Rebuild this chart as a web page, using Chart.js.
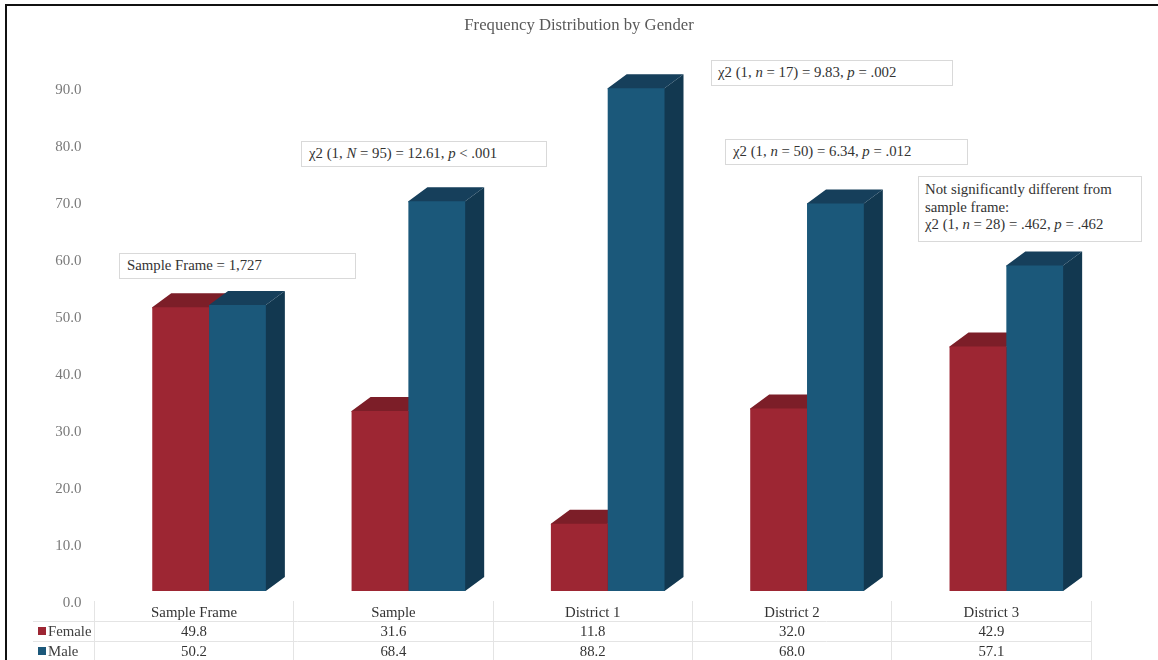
<!DOCTYPE html>
<html>
<head>
<meta charset="utf-8">
<title>Frequency Distribution by Gender</title>
<script src="https://cdn.jsdelivr.net/npm/chart.js@4"></script>
<style>
  html, body { margin: 0; padding: 0; background: #fff; }
  #wrap { position: relative; width: 1158px; height: 660px; overflow: hidden; }
  #wrap canvas { position: absolute; left: 0; top: 0; }
  #frameTop { position: absolute; left: 5px; top: 4px; right: 0; height: 2px; background: #111; }
  #frameLeft { position: absolute; left: 5px; top: 4px; bottom: 0; width: 2px; background: #111; }
  .note {
    position: absolute;
    box-sizing: border-box;
    background: #fff;
    border: 1px solid #d9d9d9;
    color: #333;
    font: 14.8px/17.5px "Liberation Serif", serif;
    padding: 0 7px;
    white-space: nowrap;
  }
  .one-line { display: flex; align-items: center; }
  .one-line span { white-space: pre; }
  #noteFrame { left: 119px; top: 253px; width: 237px; height: 26px; }
  #noteSample { left: 301px; top: 141px; width: 246px; height: 26px; }
  #noteD1 { left: 711px; top: 60px; width: 242px; height: 26px; padding-left: 6px; }
  #noteD2 { left: 725px; top: 139px; width: 243px; height: 26px; }
  #noteD3 { left: 918px; top: 176px; width: 224px; height: 66px; padding: 4px 6px 0; }
</style>
</head>
<body>
<div id="wrap">
  <canvas id="genderChart" width="1158" height="660"></canvas>
  <div id="frameTop"></div>
  <div id="frameLeft"></div>
  <div class="note one-line" id="noteFrame"><span>Sample Frame = 1,727</span></div>
  <div class="note one-line" id="noteSample"><span>χ2 (1, <i>N</i> = 95) = 12.61, <i>p</i> &lt; .001</span></div>
  <div class="note one-line" id="noteD1"><span>χ2 (1, <i>n</i> = 17) = 9.83, <i>p</i> = .002</span></div>
  <div class="note one-line" id="noteD2"><span>χ2 (1, <i>n</i> = 50) = 6.34, <i>p</i> = .012</span></div>
  <div class="note" id="noteD3">Not significantly different from<br>sample frame:<br>χ2 (1, <i>n</i> = 28) = .462, <i>p</i> = .462</div>
</div>
<script>
const categories = ["Sample Frame", "Sample", "District 1", "District 2", "District 3"];
const femaleValues = [49.8, 31.6, 11.8, 32.0, 42.9];
const maleValues = [50.2, 68.4, 88.2, 68.0, 57.1];

const FONT = '"Liberation Serif", serif';
const DEPTH_X = 19;
const DEPTH_Y = 14;

const colors = {
  Female: { front: "#9d2633", top: "#7c1e28", side: "#6e1a23" },
  Male: { front: "#1b587a", top: "#163f5b", side: "#123850" },
};

function poly(ctx, pts, fill) {
  ctx.fillStyle = fill;
  ctx.beginPath();
  pts.forEach((p, i) => (i ? ctx.lineTo(p[0], p[1]) : ctx.moveTo(p[0], p[1])));
  ctx.closePath();
  ctx.fill();
}

// Top and side faces of each column, painted behind the flat bars.
// They run 1px under the front face so its soft edge has no light seam.
const extrude = {
  id: "extrude",
  beforeDatasetsDraw(chart) {
    const ctx = chart.ctx;
    chart.data.datasets.forEach((ds, i) => {
      const c = colors[ds.label];
      chart.getDatasetMeta(i).data.forEach((bar) => {
        const l = bar.x - bar.width / 2;
        const r = bar.x + bar.width / 2;
        poly(ctx, [[r - 1, bar.y], [r, bar.y], [r + DEPTH_X, bar.y - DEPTH_Y], [r + DEPTH_X, bar.base - DEPTH_Y], [r, bar.base], [r - 1, bar.base]], c.side);
        poly(ctx, [[l, bar.y + 1], [l, bar.y], [l + DEPTH_X, bar.y - DEPTH_Y], [r + DEPTH_X, bar.y - DEPTH_Y], [r, bar.y], [r, bar.y + 1]], c.top);
      });
    });
  },
};

// Grid of the data table under the axis, plus its series keys
const dataTable = {
  id: "dataTable",
  afterDraw(chart) {
    const ctx = chart.ctx;
    const x = chart.scales.x;
    const step = x.getPixelForTick(1) - x.getPixelForTick(0);
    const left = x.getPixelForTick(0) - step / 2 - 15;
    const right = left + step * categories.length;
    const rows = [621.5, 641.5];

    ctx.save();
    ctx.strokeStyle = "#e4e4e4";
    ctx.lineWidth = 1;
    ctx.beginPath();
    rows.forEach((y) => {
      ctx.moveTo(33, y);
      ctx.lineTo(right, y);
    });
    for (let i = 0; i <= categories.length; i++) {
      const px = Math.floor(left + step * i) + 0.5;
      ctx.moveTo(px, 601);
      ctx.lineTo(px, 660);
    }
    ctx.stroke();

    ctx.font = "14.8px " + FONT;
    ctx.textBaseline = "middle";
    ctx.textAlign = "left";
    chart.data.datasets.forEach((ds, i) => {
      const y = 631 + i * 20;
      ctx.fillStyle = colors[ds.label].front;
      ctx.fillRect(38, y - 4, 8, 8);
      ctx.fillStyle = "#404040";
      ctx.fillText(ds.label, 48, y + 1);
    });
    ctx.restore();
  },
};

new Chart(document.getElementById("genderChart"), {
  type: "bar",
  data: {
    labels: categories,
    datasets: [
      { label: "Female", data: femaleValues, backgroundColor: colors.Female.front },
      { label: "Male", data: maleValues, backgroundColor: colors.Male.front },
    ],
  },
  options: {
    responsive: false,
    animation: false,
    datasets: { bar: { barPercentage: 1, categoryPercentage: 0.57 } },
    plugins: {
      legend: { display: false },
      tooltip: { enabled: false },
      title: {
        display: true,
        text: "Frequency Distribution by Gender",
        color: "#595959",
        font: { family: FONT, size: 16.7, weight: "normal" },
        padding: { top: 16, bottom: 42 },
      },
    },
    scales: {
      x: {
        grid: { display: false, drawTicks: false },
        border: { display: false },
        afterFit: (scale) => {
          scale.height = 69;
        },
        ticks: {
          autoSkip: false,
          maxRotation: 0,
          minRotation: 0,
          padding: 12,
          labelOffset: -15,
          color: "#333",
          font: { family: FONT, size: 14.8, lineHeight: 1.33 },
          // table column: category, then one value per series
          callback: (value, i) => [
            categories[i],
            femaleValues[i].toFixed(1),
            maleValues[i].toFixed(1),
          ],
        },
      },
      y: {
        min: 0,
        max: 90,
        grid: { display: false, drawTicks: false },
        border: { display: false },
        afterFit: (scale) => {
          scale.width = 109.4;
        },
        ticks: {
          stepSize: 10,
          padding: 28,
          labelOffset: 12,
          color: "#7a7a7a",
          font: { family: FONT, size: 15 },
          callback: (value) => value.toFixed(1),
        },
      },
      // empty axis: reserves the right margin and keeps the title centred on the page
      spacer: {
        position: "right",
        grid: { display: false, drawTicks: false },
        border: { display: false },
        ticks: { display: false },
        afterFit: (scale) => {
          scale.width = 52;
        },
      },
    },
  },
  plugins: [extrude, dataTable],
});
</script>
</body>
</html>
